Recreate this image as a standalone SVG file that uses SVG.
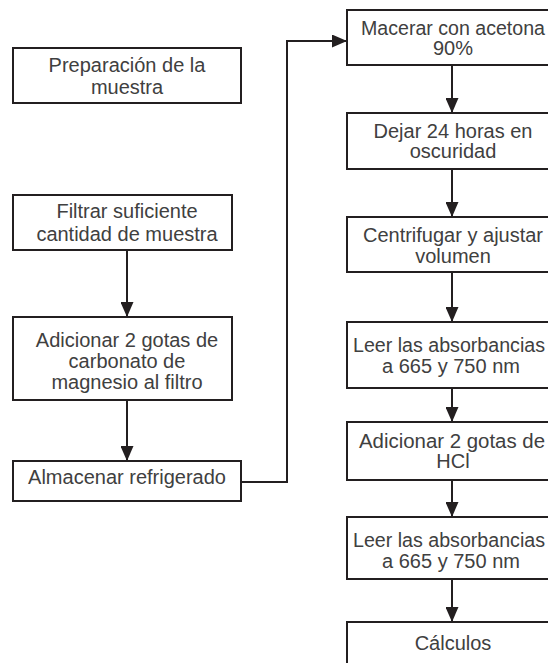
<svg xmlns="http://www.w3.org/2000/svg" width="548" height="663" viewBox="0 0 548 663">
  <style>
    .box { fill: #ffffff; stroke: #231f20; stroke-width: 2; }
    .lbl { font-family: "Liberation Sans", Arial, sans-serif; font-size: 20px; fill: #404040; text-anchor: middle; }
    .edge { fill: none; stroke: #231f20; stroke-width: 2; }
  </style>
  <defs>
    <marker id="arrow" markerUnits="userSpaceOnUse" markerWidth="15" markerHeight="13" refX="15" refY="6.5" orient="auto">
      <path d="M0,0 L15,6.5 L0,13 z" fill="#231f20"/>
    </marker>
  </defs>
  <rect width="548" height="663" fill="#ffffff"/>

  <!-- connectors -->
  <g id="connectors">
    <line class="edge" x1="127" y1="250" x2="127" y2="317" marker-end="url(#arrow)"/>
    <line class="edge" x1="127" y1="400" x2="127" y2="461" marker-end="url(#arrow)"/>
    <polyline class="edge" points="241,482 287,482 287,41 347,41" marker-end="url(#arrow)"/>
    <line class="edge" x1="452" y1="65" x2="452" y2="113" marker-end="url(#arrow)"/>
    <line class="edge" x1="452" y1="169" x2="452" y2="217" marker-end="url(#arrow)"/>
    <line class="edge" x1="452" y1="272" x2="452" y2="322" marker-end="url(#arrow)"/>
    <line class="edge" x1="452" y1="388" x2="452" y2="422" marker-end="url(#arrow)"/>
    <line class="edge" x1="452" y1="480" x2="452" y2="517" marker-end="url(#arrow)"/>
    <line class="edge" x1="452" y1="579" x2="452" y2="622" marker-end="url(#arrow)"/>
  </g>

  <!-- left column -->
  <g id="preparacion">
    <rect class="box" x="13" y="48" width="228" height="55"/>
    <text class="lbl" x="127" y="72">Preparación de la</text>
    <text class="lbl" x="127" y="94">muestra</text>
  </g>
  <g id="filtrar">
    <rect class="box" x="13" y="195" width="219" height="55"/>
    <text class="lbl" x="127" y="218">Filtrar suficiente</text>
    <text class="lbl" x="127" y="241">cantidad de muestra</text>
  </g>
  <g id="adicionar-carbonato">
    <rect class="box" x="13" y="317" width="219" height="83"/>
    <text class="lbl" x="127" y="347">Adicionar 2 gotas de</text>
    <text class="lbl" x="127" y="368">carbonato de</text>
    <text class="lbl" x="127" y="389">magnesio al filtro</text>
  </g>
  <g id="almacenar">
    <rect class="box" x="13" y="461" width="228" height="40"/>
    <text class="lbl" x="127" y="484">Almacenar refrigerado</text>
  </g>

  <!-- right column (boxes run past the right edge) -->
  <g id="macerar">
    <rect class="box" x="347" y="10" width="212" height="55"/>
    <text class="lbl" x="453" y="35" textLength="184" lengthAdjust="spacingAndGlyphs">Macerar con acetona</text>
    <text class="lbl" x="453" y="55">90%</text>
  </g>
  <g id="dejar">
    <rect class="box" x="347" y="113" width="212" height="56"/>
    <text class="lbl" x="453" y="138">Dejar 24 horas en</text>
    <text class="lbl" x="453" y="158">oscuridad</text>
  </g>
  <g id="centrifugar">
    <rect class="box" x="347" y="217" width="212" height="55"/>
    <text class="lbl" x="453" y="242">Centrifugar y ajustar</text>
    <text class="lbl" x="453" y="263">volumen</text>
  </g>
  <g id="leer-1">
    <rect class="box" x="347" y="322" width="212" height="66"/>
    <text class="lbl" x="449" y="352" textLength="192" lengthAdjust="spacingAndGlyphs">Leer las absorbancias</text>
    <text class="lbl" x="451" y="373">a 665 y 750 nm</text>
  </g>
  <g id="adicionar-hcl">
    <rect class="box" x="347" y="422" width="212" height="58"/>
    <text class="lbl" x="452" y="448" textLength="186" lengthAdjust="spacingAndGlyphs">Adicionar 2 gotas de</text>
    <text class="lbl" x="453" y="468">HCl</text>
  </g>
  <g id="leer-2">
    <rect class="box" x="347" y="517" width="212" height="62"/>
    <text class="lbl" x="449" y="547" textLength="192" lengthAdjust="spacingAndGlyphs">Leer las absorbancias</text>
    <text class="lbl" x="451" y="568">a 665 y 750 nm</text>
  </g>
  <g id="calculos">
    <rect class="box" x="347" y="622" width="212" height="60"/>
    <text class="lbl" x="453" y="650">Cálculos</text>
  </g>
</svg>
